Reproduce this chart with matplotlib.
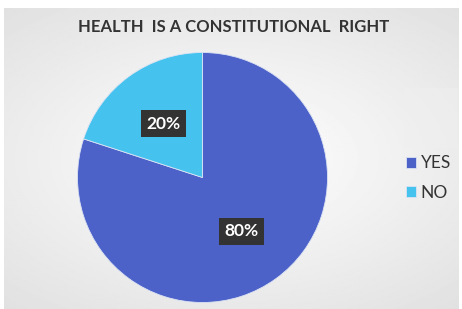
import numpy as np
import matplotlib.pyplot as plt
from matplotlib.patches import Rectangle

labels = ['YES', 'NO']
values = [80, 20]
colors = ['#4c62c9', '#45c3ee']

plt.rcParams['font.family'] = ['Lato', 'DejaVu Sans']

fig = plt.figure(figsize=(4.62, 3.09), dpi=100)
fig.patch.set_facecolor('white')

# grey panel with a soft gradient
bg = fig.add_axes([4 / 462, 0, 454 / 462, 301 / 309])
yy, xx = np.mgrid[-1:1:200j, -1:1:300j]
grad = 1 - 0.10 * np.clip(np.sqrt(xx ** 2 * 0.6 + yy ** 2 * 0.8), 0, 1.3)
bg.imshow(grad, cmap='gray', vmin=0, vmax=1, aspect='auto', extent=[0, 1, 0, 1])
bg.add_patch(Rectangle((400 / 454, 1 - 140 / 301), 58 / 454, 60 / 301,
                       facecolor='#efefef', edgecolor='none', alpha=0.6))
bg.set_xlim(0, 1)
bg.set_ylim(0, 1)
bg.set_axis_off()

cx, cy, r = 202.5, 177.5, 125
ax = fig.add_axes([(cx - r) / 462, (309 - cy - r) / 309, 2 * r / 462, 2 * r / 309])
wedges, texts, autotexts = ax.pie(values, colors=colors, startangle=90, counterclock=False,
                                  autopct='%d%%', pctdistance=0.53,
                                  wedgeprops=dict(linewidth=0.6, edgecolor='#dce3f3'))
for t in autotexts:
    t.set_color('white')
    t.set_fontsize(12.5)
    t.set_fontweight('bold')
    t.set_bbox(dict(facecolor='#333333', edgecolor='none', pad=4))
ax.set_xlim(-1, 1)
ax.set_ylim(-1, 1)
ax.set_aspect('equal')

fig.text(0.505, 1 - 27 / 309, 'HEALTH  IS A CONSTITUTIONAL  RIGHT', ha='center', va='center',
         fontsize=12, fontweight='bold', color='#333333')

fig.legend(wedges, labels, loc='center left', bbox_to_anchor=(406 / 462, 1 - 178 / 309),
           frameon=False, fontsize=12.5, handlelength=0.55, handleheight=0.55,
           handletextpad=0.3, labelspacing=0.75, labelcolor='#333333',
           borderpad=0, borderaxespad=0)

fig.savefig('out.png', dpi=100)
